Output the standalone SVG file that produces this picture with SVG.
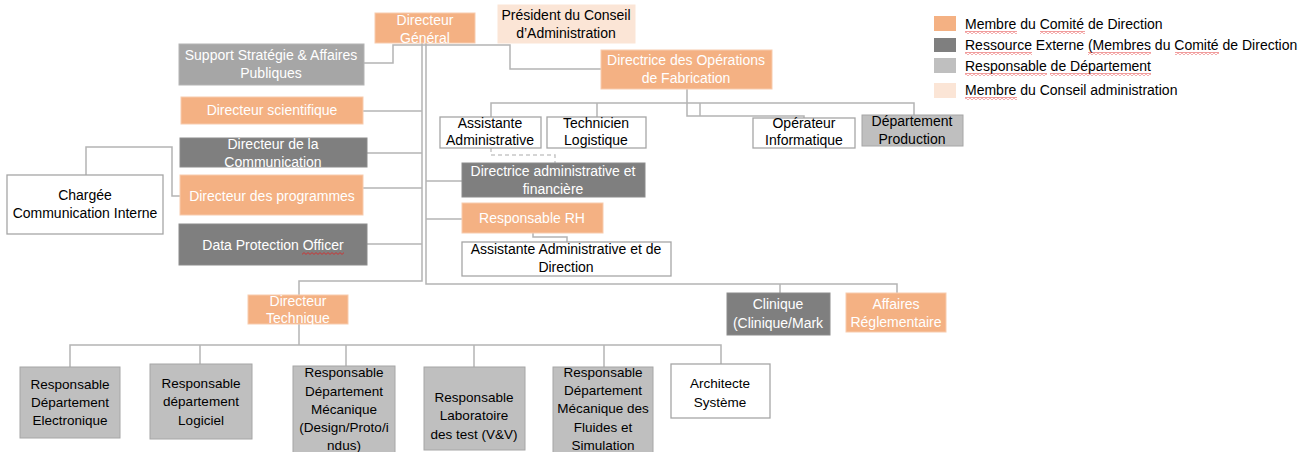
<svg xmlns="http://www.w3.org/2000/svg" width="1313" height="452" viewBox="0 0 1313 452">
  <style>
    text { font-family: "Liberation Sans", Arial, sans-serif; font-size: 14px; text-anchor: middle; }
    .w { fill: #ffffff; }
    .k { fill: #000000; }
    .sm { font-size: 13.5px; }
    .lg { text-anchor: start; fill: #000000; }
    .dir { fill: #f4b183; stroke: #f8cbad; stroke-width: 1; }
    .ext { fill: #7f7f7f; stroke: #8c8c8c; stroke-width: 1; }
    .dep { fill: #bfbfbf; stroke: #a6a6a6; stroke-width: 1; }
    .sup { fill: #a6a6a6; stroke: #b4b4b4; stroke-width: 1; }
    .ca { fill: #fbe5d6; stroke: #fbe5d6; stroke-width: 1; }
    .plain { fill: #ffffff; stroke: #a6a6a6; stroke-width: 1.3; }
    .ln { fill: none; stroke: #b4b4b4; stroke-width: 1.5; }
    .dash { fill: none; stroke: #c8c8c8; stroke-width: 1.5; stroke-dasharray: 4 3; }
    .sq { fill: url(#squiggle); }
  </style>
  <defs>
    <pattern id="squiggle" patternUnits="userSpaceOnUse" width="4" height="3">
      <path d="M0,0.6 L2,2.4 L4,0.6" fill="none" stroke="#e02020" stroke-width="0.8"/>
    </pattern>
  </defs>

  <rect width="1313" height="452" fill="#ffffff"/>

  <!-- reporting lines -->
  <g id="connectors">
    <!-- Directeur Général trunks -->
    <path class="ln" d="M422,43 V281 H299 V295"/>
    <path class="ln" d="M426,43 V284 H897 V293"/>
    <path class="ln" d="M780,284 V293"/>
    <!-- top branch: Support / Opérations -->
    <path class="ln" d="M364,63 H393 V45 H510 V69 H601"/>
    <!-- left-hand branches -->
    <path class="ln" d="M363,111 H422"/>
    <path class="ln" d="M367,153 H422"/>
    <path class="ln" d="M363,188 H422"/>
    <path class="ln" d="M367,244 H422"/>
    <!-- right-hand branches -->
    <path class="ln" d="M426,181 H462"/>
    <path class="ln" d="M426,219 H462"/>
    <!-- Communication interne -->
    <path class="ln" d="M86,175 V147 H172 V196 H180"/>
    <!-- Opérations de Fabrication -->
    <path class="ln" d="M687,89 V116 H804 V118"/>
    <path class="ln" d="M491,117 V103 H914 V115"/>
    <path class="ln" d="M597,103 V117"/>
    <path class="ln" d="M700,103 V116"/>
    <!-- dotted link -->
    <path class="dash" d="M491,148 V155 H555 V163"/>
    <!-- RH assistant -->
    <path class="ln" d="M533,233 V237 H567 V242"/>
    <!-- Directeur Technique -->
    <path class="ln" d="M299,324 V345"/>
    <path class="ln" d="M70,367 V345 H721 V364"/>
    <path class="ln" d="M200,345 V364"/>
    <path class="ln" d="M346,345 V366"/>
    <path class="ln" d="M474,345 V367"/>
    <path class="ln" d="M604,345 V367"/>
  </g>

  <g id="n-dg">
    <rect class="dir" x="375" y="13" width="100" height="30"/>
    <text class="w" x="425" y="25">Directeur</text>
    <text class="w" x="425" y="43">Général</text>
  </g>
  <g id="n-president">
    <rect class="ca" x="498" y="5" width="137" height="38"/>
    <text class="k" x="566" y="20">Président du Conseil</text>
    <text class="k" x="566" y="38">d’Administration</text>
  </g>
  <g id="n-support">
    <rect class="sup" x="179" y="44" width="185" height="41"/>
    <text class="w" x="271" y="60">Support Stratégie &amp; Affaires</text>
    <text class="w" x="271" y="78">Publiques</text>
  </g>
  <g id="n-scientifique">
    <rect class="dir" x="181" y="97" width="182" height="27"/>
    <text class="w" x="272" y="115">Directeur scientifique</text>
  </g>
  <g id="n-communication">
    <rect class="ext" x="180" y="138" width="187" height="29"/>
    <text class="w" x="273" y="149">Directeur de la</text>
    <text class="w" x="273" y="167">Communication</text>
  </g>
  <g id="n-programmes">
    <rect class="dir" x="180" y="175" width="183" height="40"/>
    <text class="w" x="272" y="201">Directeur des programmes</text>
  </g>
  <g id="n-dpo">
    <rect class="ext" x="179" y="224" width="188" height="41"/>
    <text class="w" x="273" y="250">Data Protection Officer</text>
    <rect class="sq" x="302" y="252" width="42" height="3"/>
  </g>
  <g id="n-chargee">
    <rect class="plain" x="7" y="175" width="156" height="59"/>
    <text class="k" x="85" y="200">Chargée</text>
    <text class="k" x="85" y="218">Communication Interne</text>
  </g>
  <g id="n-fabrication">
    <rect class="dir" x="601" y="50" width="171" height="39"/>
    <text class="w" x="686" y="65">Directrice des Opérations</text>
    <text class="w" x="686" y="83">de Fabrication</text>
  </g>
  <g id="n-assist-adm">
    <rect class="plain" x="440" y="117" width="101" height="31"/>
    <text class="k" x="490" y="128">Assistante</text>
    <text class="k" x="490" y="145">Administrative</text>
  </g>
  <g id="n-technicien">
    <rect class="plain" x="547" y="117" width="99" height="31"/>
    <text class="k" x="596" y="128">Technicien</text>
    <text class="k" x="596" y="145">Logistique</text>
  </g>
  <g id="n-operateur">
    <rect class="plain" x="753" y="118" width="102" height="30"/>
    <text class="k" x="804" y="128">Opérateur</text>
    <text class="k" x="804" y="145">Informatique</text>
  </g>
  <g id="n-production">
    <rect class="dep" x="862" y="115" width="101" height="31"/>
    <text class="k" x="912" y="126">Département</text>
    <text class="k" x="912" y="144">Production</text>
  </g>
  <g id="n-daf">
    <rect class="ext" x="462" y="163" width="183" height="34"/>
    <text class="w" x="553" y="176">Directrice administrative et</text>
    <text class="w" x="553" y="194">financière</text>
  </g>
  <g id="n-rh">
    <rect class="dir" x="462" y="203" width="141" height="30"/>
    <text class="w" x="532" y="223">Responsable RH</text>
  </g>
  <g id="n-assist-dir">
    <rect class="plain" x="462" y="242" width="209" height="34"/>
    <text class="k" x="566" y="254">Assistante Administrative et de</text>
    <text class="k" x="566" y="272">Direction</text>
  </g>
  <g id="n-technique">
    <rect class="dir" x="248" y="295" width="100" height="29"/>
    <text class="w" x="298" y="306">Directeur</text>
    <text class="w" x="298" y="323">Technique</text>
  </g>
  <g id="n-clinique">
    <rect class="ext" x="727" y="293" width="103" height="42"/>
    <text class="w" x="778" y="309">Clinique</text>
    <text class="w" x="778" y="328">(Clinique/Mark</text>
  </g>
  <g id="n-affaires">
    <rect class="dir" x="846" y="293" width="100" height="39"/>
    <text class="w" x="896" y="309">Affaires</text>
    <text class="w" x="896" y="327">Réglementaire</text>
  </g>
  <g id="n-electronique">
    <rect class="dep" x="20" y="367" width="100" height="71"/>
    <text class="k sm" x="70" y="389">Responsable</text>
    <text class="k sm" x="70" y="407">Département</text>
    <text class="k sm" x="70" y="425">Electronique</text>
  </g>
  <g id="n-logiciel">
    <rect class="dep" x="150" y="364" width="102" height="75"/>
    <text class="k sm" x="201" y="388">Responsable</text>
    <text class="k sm" x="201" y="406">département</text>
    <text class="k sm" x="201" y="425">Logiciel</text>
  </g>
  <g id="n-mecanique">
    <rect class="dep" x="293" y="366" width="102" height="92"/>
    <text class="k sm" x="344" y="377">Responsable</text>
    <text class="k sm" x="344" y="396">Département</text>
    <text class="k sm" x="344" y="414">Mécanique</text>
    <text class="k sm" x="344" y="432">(Design/Proto/i</text>
    <text class="k sm" x="344" y="450">ndus)</text>
  </g>
  <g id="n-labo">
    <rect class="dep" x="424" y="367" width="101" height="83"/>
    <text class="k sm" x="474" y="402">Responsable</text>
    <text class="k sm" x="474" y="420">Laboratoire</text>
    <text class="k sm" x="474" y="439">des test (V&amp;V)</text>
  </g>
  <g id="n-fluides">
    <rect class="dep" x="553" y="367" width="100" height="92"/>
    <text class="k sm" x="603" y="377">Responsable</text>
    <text class="k sm" x="603" y="395">Département</text>
    <text class="k sm" x="603" y="413">Mécanique des</text>
    <text class="k sm" x="603" y="432">Fluides et</text>
    <text class="k sm" x="603" y="450">Simulation</text>
  </g>
  <g id="n-architecte">
    <rect class="plain" x="671" y="364" width="99" height="54"/>
    <text class="k sm" x="720" y="388">Architecte</text>
    <text class="k sm" x="720" y="407">Système</text>
  </g>

  <g id="legend">
    <rect x="934" y="16" width="22" height="15" fill="#f4b183"/>
    <text class="lg" x="965" y="29">Membre du Comité de Direction</text>
    <rect class="sq" x="965" y="31" width="52" height="3"/>
    <rect class="sq" x="1040" y="31" width="45" height="3"/>
    <rect x="934" y="38" width="22" height="14" fill="#7f7f7f"/>
    <text class="lg" x="965" y="50">Ressource Externe (Membres du Comité de Direction</text>
    <rect class="sq" x="965" y="52" width="67" height="3"/>
    <rect class="sq" x="1088" y="52" width="63" height="3"/>
    <rect class="sq" x="1175" y="52" width="44" height="3"/>
    <rect x="934" y="58" width="22" height="15" fill="#bfbfbf"/>
    <text class="lg" x="965" y="71">Responsable de Département</text>
    <rect class="sq" x="965" y="73" width="82" height="3"/>
    <rect class="sq" x="1050" y="73" width="101" height="3"/>
    <rect x="934" y="83" width="22" height="15" fill="#fbe5d6"/>
    <text class="lg" x="965" y="95">Membre du Conseil administration</text>
    <rect class="sq" x="965" y="97" width="52" height="3"/>
  </g>
</svg>
